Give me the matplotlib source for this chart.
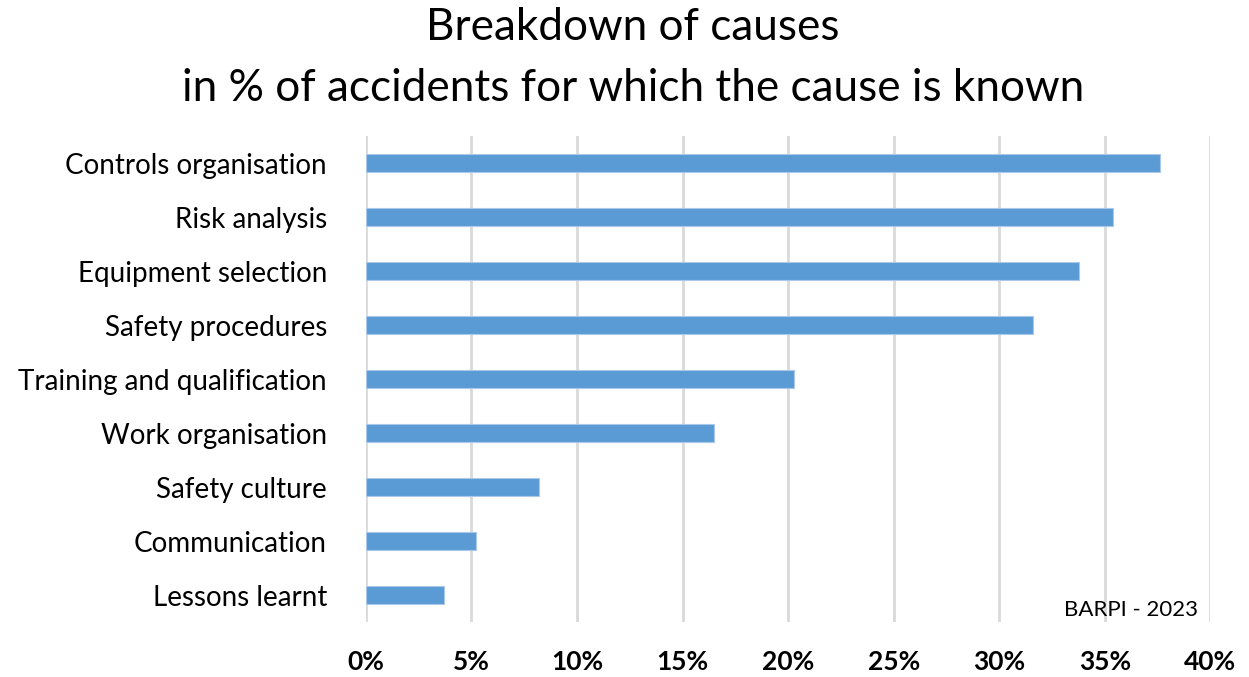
import matplotlib
matplotlib.use("Agg")
import matplotlib.pyplot as plt
from matplotlib.ticker import FuncFormatter

plt.rcParams['font.family'] = ['Lato', 'DejaVu Sans']

causes = ["Controls organisation", "Risk analysis", "Equipment selection",
          "Safety procedures", "Training and qualification", "Work organisation",
          "Safety culture", "Communication", "Lessons learnt"]
shares = [37.6, 35.4, 33.8, 31.6, 20.3, 16.5, 8.2, 5.2, 3.7]
xticks = [0, 5, 10, 15, 20, 25, 30, 35, 40]

fig = plt.figure(figsize=(12.49, 6.77), dpi=100)
ax = fig.add_axes([0.293, 0.081, 0.676, 0.718])

ypos = list(range(len(causes)))
ax.barh(ypos, shares, height=0.34, color="#5B9BD5", edgecolor="#A9C8EA", linewidth=0.8, zorder=3)

ax.set_ylim(len(causes) - 0.5, -0.5)
ax.set_xlim(0, 40)
ax.set_yticks(ypos)
ax.set_yticklabels(causes, fontsize=20)
ax.set_xticks(xticks)
ax.xaxis.set_major_formatter(FuncFormatter(lambda v, p: f"{v:.0f}%"))
for lbl in ax.get_xticklabels():
    lbl.set_fontweight("bold")
    lbl.set_fontsize(19)

ax.tick_params(axis="y", length=0, pad=28)
ax.tick_params(axis="x", length=0, pad=20)
ax.grid(axis="x", color="#D9D9D9", linewidth=2, zorder=0)
for s in ax.spines.values():
    s.set_visible(False)

fig.text(0.507, 0.99, "Breakdown of causes\nin % of accidents for which the cause is known",
         ha="center", va="top", fontsize=31.8, linespacing=1.6)
ax.text(0.985, 0.005, "BARPI - 2023", transform=ax.transAxes, ha="right", va="bottom", fontsize=16)

fig.savefig("out.png", dpi=100)
